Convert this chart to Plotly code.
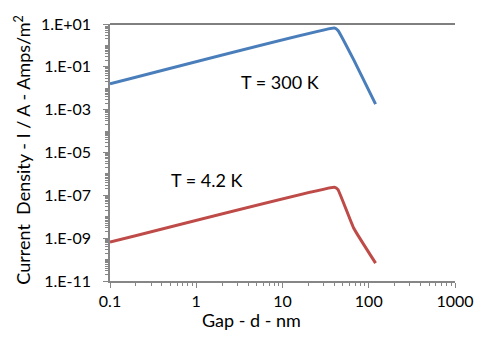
import plotly.graph_objects as go

# Data
gap_nm = [0.1, 40, 44, 67, 120]
j_300k = [0.016, 6.5, 5.0, 0.21, 0.0018]
j_4k = [6.5e-10, 2.4e-7, 1.85e-7, 2.9e-9, 6.8e-11]

y_tickvals = [1e1, 1e-1, 1e-3, 1e-5, 1e-7, 1e-9, 1e-11]
y_ticktext = ["1.E+01", "1.E-01", "1.E-03", "1.E-05", "1.E-07", "1.E-09", "1.E-11"]
x_tickvals = [0.1, 1, 10, 100, 1000]
x_ticktext = ["0.1", "1", "10", "100", "1000"]

FONT = "Lato"
AX = "#868686"

fig = go.Figure()
fig.add_trace(go.Scatter(x=gap_nm, y=j_300k, mode="lines",
                         line=dict(color="#4A7EBB", width=3, shape="spline", smoothing=0.3),
                         showlegend=False))
fig.add_trace(go.Scatter(x=gap_nm, y=j_4k, mode="lines",
                         line=dict(color="#BE4B48", width=3, shape="spline", smoothing=0.3),
                         showlegend=False))

fig.add_annotation(x=0.966, y=-1.71, xref="x", yref="y", text="T = 300 K",
                   showarrow=False, font=dict(family=FONT, size=18, color="black"))
fig.add_annotation(x=0.124, y=-6.29, xref="x", yref="y", text="T = 4.2 K",
                   showarrow=False, font=dict(family=FONT, size=18, color="black"))

fig.add_annotation(x=0.41, y=-0.152, xref="paper", yref="paper", text="Gap - d - nm",
                   xanchor="center", yanchor="middle",
                   showarrow=False, font=dict(family=FONT, size=18, color="black"))
fig.add_annotation(x=-0.253, y=0.51, xref="paper", yref="paper",
                   text="Current  Density - I / A - Amps/m<sup>2</sup>", textangle=-90,
                   xanchor="center", yanchor="middle",
                   showarrow=False, font=dict(family=FONT, size=18, color="black"))

fig.add_shape(type="line", xref="paper", yref="paper", x0=0, x1=1, y0=1, y1=1,
              line=dict(color="black", width=1))

fig.update_xaxes(type="log", range=[-1, 3], tickvals=x_tickvals, ticktext=x_ticktext,
                 showline=True, linecolor=AX, linewidth=1.5, ticks="outside",
                 tickcolor=AX, ticklen=5, showgrid=False, zeroline=False,
                 minor=dict(ticks="outside", ticklen=3, tickcolor=AX, dtick="D1", showgrid=False),
                 tickfont=dict(family=FONT, size=16, color="black"))
fig.update_yaxes(type="log", range=[-11, 1], tickvals=y_tickvals, ticktext=y_ticktext,
                 showline=True, linecolor=AX, linewidth=1.5, ticks="outside",
                 tickcolor=AX, ticklen=5, showgrid=False, zeroline=False, ticklabelstandoff=9,
                 minor=dict(ticks="outside", ticklen=3, tickcolor=AX, dtick="D1", showgrid=False),
                 tickfont=dict(family=FONT, size=16, color="black"))

fig.update_layout(width=486, height=342, margin=dict(l=110, r=20, t=24, b=61),
                  paper_bgcolor="white", plot_bgcolor="white")

fig.write_html("out.html")
